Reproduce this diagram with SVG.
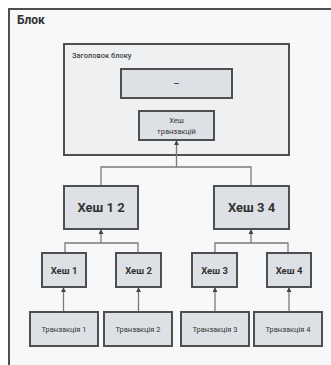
<svg xmlns="http://www.w3.org/2000/svg" width="331" height="365" viewBox="0 0 331 365">
<style>
.node{fill:#dde1e6;stroke:#4f4f4f;stroke-width:2}
.hdr{fill:#eef0f2;stroke:#4f4f4f;stroke-width:2}
.t{font-family:Roboto,"Liberation Sans",sans-serif;fill:#333;text-anchor:middle}
.c{fill:none;stroke:#7a7a7a;stroke-width:1.3}
</style>
<defs>
<marker id="ah" viewBox="0 0 6 6" refX="5" refY="3" markerWidth="4" markerHeight="4" orient="auto"><path d="M0,0 L6,3 L0,6 z" fill="#444"/></marker>
</defs>
<rect x="0" y="0" width="331" height="365" fill="#ffffff"/>
<g id="block">
<rect x="9" y="9" width="330" height="370" fill="#f7f8fa" stroke="#4f4f4f" stroke-width="2"/>
<text x="17" y="24" font-family="Roboto,'Liberation Sans',sans-serif" font-size="12" font-weight="bold" fill="#333">Блок</text>
</g>
<g id="header">
<rect class="hdr" x="64" y="44" width="225" height="111"/>
<text x="72" y="58" font-family="Roboto,'Liberation Sans',sans-serif" font-size="7.5" font-weight="500" fill="#444">Заголовок блоку</text>
</g>
<g id="dots">
<rect class="node" x="121" y="69" width="111" height="29"/>
<text class="t" x="176.5" y="87" font-size="10" fill="#777">–</text>
</g>
<g id="txhash">
<rect class="node" x="139" y="111" width="75" height="29"/>
<text class="t" x="176.5" y="123" font-size="7.5">Хеш</text>
<text class="t" x="176.5" y="134" font-size="7.5">транзакцій</text>
</g>
<g id="connectors">
<path class="c" d="M101,186 V167 H251 V186"/>
<path class="c" d="M176.5,167 V141" marker-end="url(#ah)"/>
<path class="c" d="M65,253 V243 H138 V253"/>
<path class="c" d="M101,243 V230" marker-end="url(#ah)"/>
<path class="c" d="M215,253 V243 H288 V253"/>
<path class="c" d="M251,243 V230" marker-end="url(#ah)"/>
<path class="c" d="M63.5,312 V288" marker-end="url(#ah)"/>
<path class="c" d="M138.5,312 V288" marker-end="url(#ah)"/>
<path class="c" d="M215,312 V288" marker-end="url(#ah)"/>
<path class="c" d="M289,312 V288" marker-end="url(#ah)"/>
</g>
<g id="h12">
<rect class="node" x="64" y="186" width="74" height="43"/>
<text class="t" x="101" y="212" font-size="13" font-weight="bold">Хеш 1 2</text>
</g>
<g id="h34">
<rect class="node" x="214" y="186" width="75" height="43"/>
<text class="t" x="251.5" y="212" font-size="13" font-weight="bold">Хеш 3 4</text>
</g>
<g id="h1">
<rect class="node" x="42" y="253" width="44" height="34"/>
<text class="t" x="64" y="274" font-size="9.5" font-weight="bold">Хеш 1</text>
</g>
<g id="h2">
<rect class="node" x="116" y="253" width="45" height="34"/>
<text class="t" x="138.5" y="274" font-size="9.5" font-weight="bold">Хеш 2</text>
</g>
<g id="h3">
<rect class="node" x="192" y="253" width="45" height="34"/>
<text class="t" x="214.5" y="274" font-size="9.5" font-weight="bold">Хеш 3</text>
</g>
<g id="h4">
<rect class="node" x="267" y="253" width="44" height="34"/>
<text class="t" x="289" y="274" font-size="9.5" font-weight="bold">Хеш 4</text>
</g>
<g id="t1">
<rect class="node" x="30" y="312" width="68" height="34"/>
<text class="t" x="64" y="332" font-size="7.5">Транзакція 1</text>
</g>
<g id="t2">
<rect class="node" x="104" y="312" width="68" height="34"/>
<text class="t" x="138" y="332" font-size="7.5">Транзакція 2</text>
</g>
<g id="t3">
<rect class="node" x="181" y="312" width="68" height="34"/>
<text class="t" x="215" y="332" font-size="7.5">Транзакція 3</text>
</g>
<g id="t4">
<rect class="node" x="254" y="312" width="68" height="34"/>
<text class="t" x="288" y="332" font-size="7.5">Транзакція 4</text>
</g>
</svg>
